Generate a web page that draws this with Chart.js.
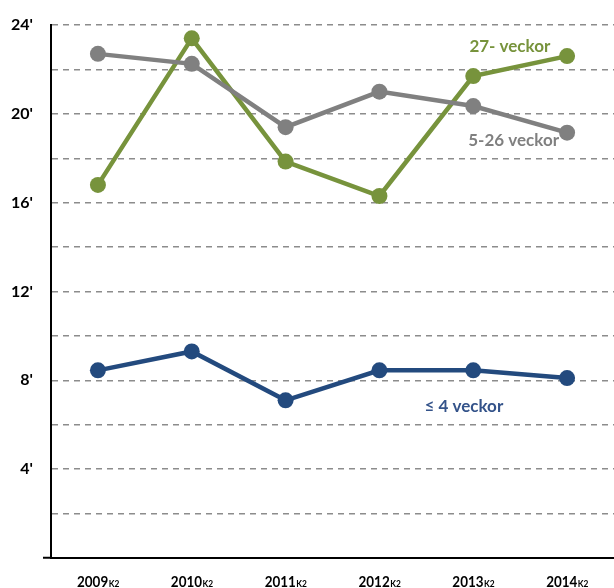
<!DOCTYPE html>
<html>
<head>
<meta charset="utf-8">
<script src="https://cdn.jsdelivr.net/npm/chart.js@4"></script>
<style>
  html, body { margin: 0; padding: 0; background: #fff; }
  #wrap { width: 614px; height: 588px; }
</style>
</head>
<body>
<div id="wrap"><canvas id="chart" width="614" height="588"></canvas></div>
<script>
const years = ['2009', '2010', '2011', '2012', '2013', '2014']
const yearSub = 'K2'
const over26 = [16.8, 23.4, 17.85, 16.3, 21.7, 22.6]
const mid = [22.7, 22.25, 19.4, 21.0, 20.35, 19.15]
const under4 = [8.45, 9.3, 7.1, 8.45, 8.45, 8.1]

const GREEN = '#77933c'
const GREY = '#808080'
const BLUE = '#234a7e'
const FONT = 'Lato, sans-serif'

function series(data, color) {
  return {
    data: data,
    borderColor: color,
    backgroundColor: color,
    borderWidth: 4.5,
    pointRadius: 8,
    pointHoverRadius: 8,
    pointBorderWidth: 0,
    tension: 0,
    clip: false,
  }
}

// draw text squeezed horizontally, the original font is narrower than Lato
function narrowText(ctx, text, x, y, squeeze) {
  ctx.save()
  ctx.translate(x, y)
  ctx.scale(squeeze, 1)
  ctx.fillText(text, 0, 0)
  ctx.restore()
}

// year labels with a small "K2" subscript
const yearLabels = {
  id: 'yearLabels',
  afterDraw(chart) {
    const ctx = chart.ctx
    const xs = chart.scales.x
    const sq = 0.84
    ctx.save()
    ctx.fillStyle = '#000'
    ctx.textBaseline = 'alphabetic'
    ctx.textAlign = 'left'
    years.forEach((y, i) => {
      ctx.font = 'bold 16px ' + FONT
      const w1 = ctx.measureText(y).width * sq
      ctx.font = 'bold 10px ' + FONT
      const w2 = ctx.measureText(yearSub).width * sq
      const x0 = xs.getPixelForValue(i) - (w1 + w2) / 2
      ctx.font = 'bold 16px ' + FONT
      narrowText(ctx, y, x0, 587, sq)
      ctx.font = 'bold 10px ' + FONT
      narrowText(ctx, yearSub, x0 + w1 + 0.5, 587, sq)
    })
    ctx.restore()
  },
}

// series names written next to the lines
const seriesNames = {
  id: 'seriesNames',
  afterDatasetsDraw(chart) {
    const ctx = chart.ctx
    const xs = chart.scales.x
    const ys = chart.scales.y
    ctx.save()
    ctx.font = 'bold 17px ' + FONT
    ctx.textAlign = 'center'
    ctx.textBaseline = 'middle'
    ctx.fillStyle = GREEN
    ctx.fillText('27- veckor', xs.getPixelForValue(4.39), ys.getPixelForValue(23.05))
    ctx.fillStyle = GREY
    ctx.fillText('5-26 veckor', xs.getPixelForValue(4.43), ys.getPixelForValue(18.8))
    ctx.fillStyle = '#34538a'
    ctx.fillText('≤ 4 veckor', xs.getPixelForValue(3.9), ys.getPixelForValue(6.8))
    ctx.restore()
  },
}

new Chart(document.getElementById('chart'), {
  type: 'line',
  data: {
    labels: years,
    datasets: [series(mid, GREY), series(over26, GREEN), series(under4, BLUE)],
  },
  options: {
    responsive: false,
    animation: false,
    layout: { autoPadding: false, padding: { top: 25, left: 0, right: 0, bottom: 0 } },
    plugins: {
      legend: { display: false },
      tooltip: { enabled: false },
    },
    scales: {
      x: {
        type: 'category',
        offset: true,
        grid: { display: false },
        border: { display: true, color: '#000', width: 2 },
        ticks: { display: false },
        afterFit(scale) {
          scale.height = 30
        },
      },
      y: {
        min: 0,
        max: 24,
        ticks: {
          stepSize: 2,
          padding: 10,
          color: '#000',
          font: { family: FONT, size: 16, weight: 'bold' },
          callback: (v) => (v > 0 && v % 4 === 0 ? v + "'" : ''),
        },
        grid: {
          color: (c) => (c.tick && c.tick.value === 0 ? 'rgba(0,0,0,0)' : '#8c8c8c'),
          lineWidth: 1.5,
          drawTicks: true,
          tickLength: 8,
          tickColor: (c) => (c.tick && c.tick.value === 0 ? '#000' : 'rgba(0,0,0,0)'),
          tickWidth: 2,
        },
        border: { display: true, color: '#000', width: 2, dash: [6, 5] },
        afterFit(scale) {
          scale.width = 51
        },
      },
    },
  },
  plugins: [yearLabels, seriesNames],
})
</script>
</body>
</html>
